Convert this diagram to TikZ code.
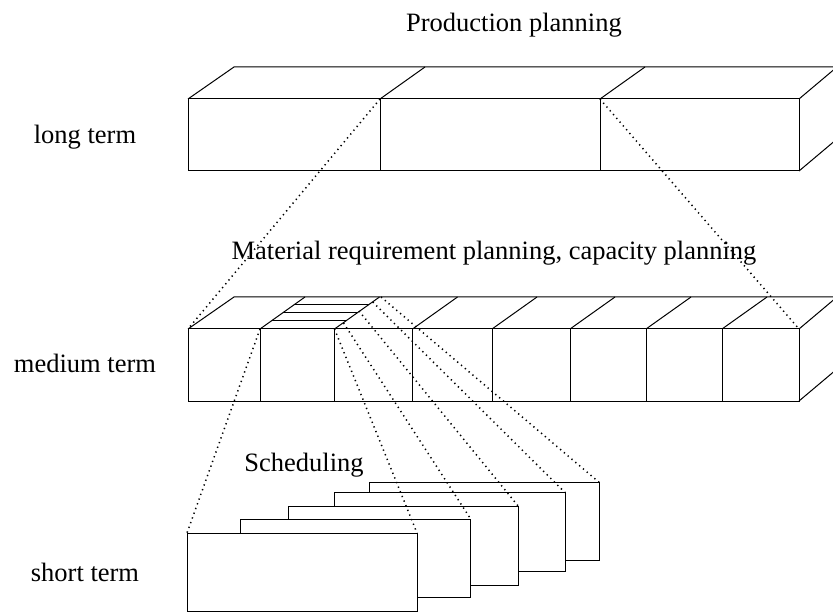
\documentclass[tikz,border=0pt]{standalone}
\usepackage{fontspec}
\setmainfont{Liberation Serif}
\begin{document}
\begin{tikzpicture}[x=1pt,y=-1pt,
  edge/.style={line width=1pt,line join=miter},
  dotline/.style={line width=1.5pt,dash pattern=on 1.3pt off 3.7pt},
  card/.style={edge,fill=white},
  lbl/.style={font=\fontsize{26.5}{30}\selectfont,inner sep=0pt,anchor=base}]
\useasboundingbox (0,0) rectangle (833,612);
\clip (0,0) rectangle (833,612);
% ---------- long term box ----------
\coordinate (LA) at (188,99);
\coordinate (LB) at (799,99);
\coordinate (LC) at (799,171);
\coordinate (LD) at (188,171);
\coordinate (L1) at (380,99);
\coordinate (L2) at (600,99);
\draw[edge] (LA) rectangle (LC);
\draw[edge] (LA) -- ++(46,-32) -- (837,67) -- (LB);
\draw[edge] (837,67) -- (837,139) -- (LC);
\foreach \x in {380,600}{
  \draw[edge] (\x,99) -- (\x,171);
  \draw[edge] (\x,99) -- ++(45,-32);
}
% ---------- medium term box ----------
\coordinate (MA) at (188,329);
\coordinate (MB) at (799,329);
\coordinate (MC) at (799,401);
\coordinate (M1) at (260,329);
\coordinate (M2) at (334.5,329);
\draw[edge] (MA) rectangle (MC);
\draw[edge] (MA) -- ++(46,-32) -- (837,297) -- (MB);
\draw[edge] (837,297) -- (837,369) -- (MC);
\foreach \x in {260,334.5,412.5,492,570,646,722}{
  \draw[edge] (\x,329) -- (\x,401);
  \draw[edge] (\x,329) -- ++(45,-32);
}
% hatching on top face of second cell
\foreach \y in {304.3,312.7,320.7}{
  \draw[edge] ({260+45*(329-\y)/32},\y) -- ({334.5+45*(329-\y)/32},\y);
}
% start points on the top face
\coordinate (S1) at (334.5,329);
\coordinate (S2) at (343.5,323);
\coordinate (S3) at (359,311);
\coordinate (S4) at (372.7,302);
\coordinate (S5) at (381,297);
% ---------- cards ----------
\draw[card] (369,482.5) rectangle (599.3,560.5);
\draw[card] (334.3,492.5) rectangle (565,571.3);
\draw[card] (288.3,506.7) rectangle (518.7,585.3);
\draw[card] (240,519) rectangle (470.7,597.3);
\draw[card] (187,533) rectangle (417,611.5);
\coordinate (C1) at (417,533);
\coordinate (C2) at (470.7,519);
\coordinate (C3) at (518.7,506.7);
\coordinate (C4) at (565,492.5);
\coordinate (C5) at (599.3,482.5);
\coordinate (C0) at (187,533);
% ---------- dotted connectors ----------
\draw[dotline] (L1) -- (MA);
\draw[dotline] (L2) -- (MB);
\draw[dotline] (M1) -- (C0);
\draw[dotline] (S1) -- (C1);
\draw[dotline] (S2) -- (C2);
\draw[dotline] (S3) -- (C3);
\draw[dotline] (S4) -- (C4);
\draw[dotline] (S5) -- (C5);
% ---------- labels ----------
\node[lbl] (tp) at (514,31.7) {Production planning};
\node[lbl] (tm) at (494,260) {Material requirement planning, capacity planning};
\node[lbl] (ts) at (304,471.7) {Scheduling};
\node[lbl] (ll) at (85,144) {long term};
\node[lbl] (lm) at (85,373) {medium term};
\node[lbl] (lsh) at (85,581) {short term};
\end{tikzpicture}
\end{document}
